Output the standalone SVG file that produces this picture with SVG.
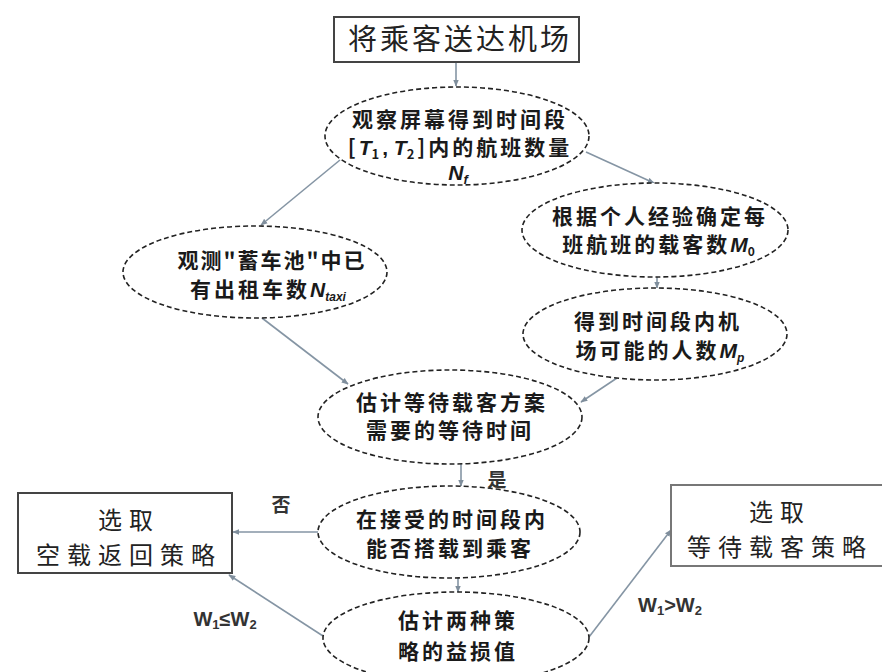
<svg xmlns="http://www.w3.org/2000/svg" width="882" height="672" viewBox="0 0 882 672">
<defs>
<marker id="arr" viewBox="0 0 10 10" refX="9" refY="5" markerWidth="7" markerHeight="7" orient="auto" markerUnits="userSpaceOnUse">
<path d="M0,1 L10,5 L0,9 z" fill="#7f8e9c"/>
</marker>
</defs>
<style>
.bg{fill:#ffffff}
.box{fill:#ffffff;stroke:#444;stroke-width:2}
.ell{fill:#ffffff;stroke:#222;stroke-width:1.6;stroke-dasharray:5 3}
.con{fill:none;stroke:#8595a4;stroke-width:1.6;marker-end:url(#arr)}
.et{font-family:"Noto Sans CJK SC","Noto Sans",sans-serif;font-weight:bold;font-size:21px;letter-spacing:3px;fill:#1a1a1a;text-anchor:middle}
.bt{font-family:"Noto Sans CJK SC","Noto Sans",sans-serif;font-size:24px;letter-spacing:7px;fill:#222;text-anchor:middle}
.m{font-family:"Liberation Sans",Arial,sans-serif;font-style:italic;letter-spacing:0}
.lab{font-family:"Liberation Sans","Noto Sans CJK SC",sans-serif;font-weight:bold;font-size:20px;fill:#333;text-anchor:middle}
.cl{font-family:"Noto Sans CJK SC",sans-serif;font-weight:bold;font-size:19px;fill:#333;text-anchor:middle}
</style>
<rect class="bg" x="0" y="0" width="882" height="672"/>
<g id="connectors">
<line class="con" x1="456" y1="62" x2="456" y2="86"/>
<line class="con" x1="340" y1="160" x2="261" y2="225"/>
<line class="con" x1="586" y1="152" x2="654" y2="183"/>
<line class="con" x1="657" y1="277" x2="657" y2="288"/>
<line class="con" x1="262" y1="318" x2="348" y2="384"/>
<line class="con" x1="617" y1="378" x2="581" y2="402"/>
<line class="con" x1="461" y1="463" x2="461" y2="486"/>
<line class="con" x1="318" y1="532" x2="233" y2="532"/>
<line class="con" x1="458" y1="578" x2="458" y2="592"/>
<line class="con" x1="323" y1="636" x2="229" y2="575"/>
<line class="con" x1="589" y1="637" x2="671" y2="530"/>
<text class="cl" x="497" y="487">是</text>
<text class="cl" x="281" y="512">否</text>
<text class="lab" x="225" y="626">W<tspan font-size="13" dy="3">1</tspan><tspan dy="-3">≤W</tspan><tspan font-size="13" dy="3">2</tspan></text>
<text class="lab" x="670" y="612">W<tspan font-size="13" dy="3">1</tspan><tspan dy="-3">&gt;W</tspan><tspan font-size="13" dy="3">2</tspan></text>
</g>
<g id="n_start">
<rect class="box" x="334" y="17" width="245" height="45"/>
<text class="bt" x="460" y="50" style="font-size:29px;letter-spacing:3px">将乘客送达机场</text>
</g>
<g id="n_observe">
<ellipse class="ell" cx="457" cy="136" rx="132" ry="49"/>
<text class="et" x="460" y="127">观察屏幕得到时间段</text>
<text class="et" x="460" y="155">[<tspan class="m">T</tspan><tspan font-size="13" dy="4">1</tspan><tspan dy="-4" class="m" style="font-style:normal">, </tspan><tspan class="m">T</tspan><tspan font-size="13" dy="4">2</tspan><tspan dy="-4">]内的航班数量</tspan></text>
<text class="et" x="458" y="180"><tspan class="m">N</tspan><tspan class="m" font-size="13" dy="4">f</tspan></text>
</g>
<g id="n_pool">
<ellipse class="ell" cx="255" cy="272" rx="132" ry="46"/>
<text class="et" x="272" y="268" style="letter-spacing:2px">观测"蓄车池"中已</text>
<text class="et" x="268" y="297">有出租车数<tspan class="m">N</tspan><tspan class="m" font-size="12" dy="4">taxi</tspan></text>
</g>
<g id="n_exp">
<ellipse class="ell" cx="655" cy="230" rx="133" ry="47"/>
<text class="et" x="660" y="224">根据个人经验确定每</text>
<text class="et" x="660" y="252">班航班的载客数<tspan class="m">M</tspan><tspan font-size="12" dy="4">0</tspan></text>
</g>
<g id="n_people">
<ellipse class="ell" cx="655" cy="334" rx="132" ry="46"/>
<text class="et" x="658" y="329">得到时间段内机</text>
<text class="et" x="660" y="358">场可能的人数<tspan class="m">M</tspan><tspan class="m" font-size="12" dy="4">p</tspan></text>
</g>
<g id="n_wait">
<ellipse class="ell" cx="450" cy="417" rx="132" ry="47"/>
<text class="et" x="452" y="410">估计等待载客方案</text>
<text class="et" x="450" y="438">需要的等待时间</text>
</g>
<g id="n_accept">
<ellipse class="ell" cx="449" cy="532" rx="131" ry="46"/>
<text class="et" x="452" y="527">在接受的时间段内</text>
<text class="et" x="450" y="556">能否搭载到乘客</text>
</g>
<g id="n_estimate">
<ellipse class="ell" cx="456" cy="638" rx="133" ry="46"/>
<text class="et" x="458" y="628">估计两种策</text>
<text class="et" x="458" y="659">略的益损值</text>
</g>
<g id="n_empty">
<rect class="box" x="18" y="493" width="214" height="80"/>
<text class="bt" x="129" y="529">选取</text>
<text class="bt" x="129" y="564">空载返回策略</text>
</g>
<g id="n_take">
<rect class="box" x="671" y="485" width="212" height="81" style="stroke:#777"/>
<text class="bt" x="780" y="521">选取</text>
<text class="bt" x="780" y="556">等待载客策略</text>
</g>
</svg>
